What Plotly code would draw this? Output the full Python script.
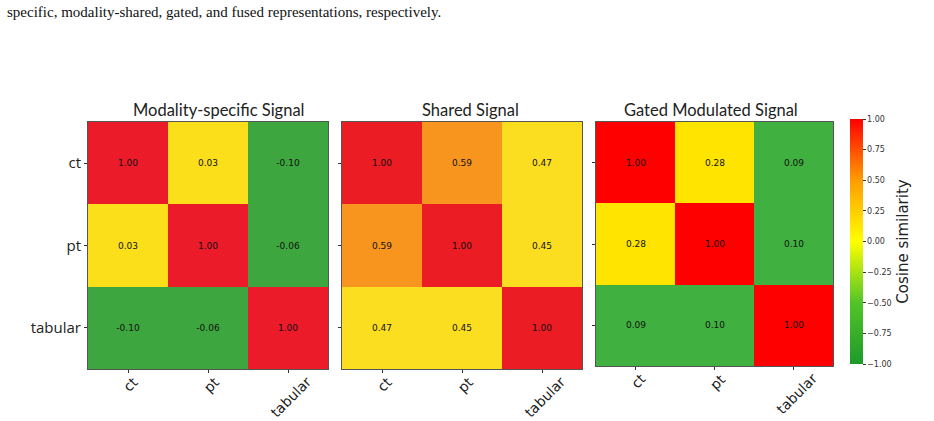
import plotly.graph_objects as go

labels = ["ct", "pt", "tabular"]

specific_vals = [[1.00, 0.03, -0.10],
                 [0.03, 1.00, -0.06],
                 [-0.10, -0.06, 1.00]]
shared_vals = [[1.00, 0.59, 0.47],
               [0.59, 1.00, 0.45],
               [0.47, 0.45, 1.00]]
gated_vals = [[1.00, 0.28, 0.09],
              [0.28, 1.00, 0.10],
              [0.09, 0.10, 1.00]]

titles = ["Modality-specific Signal", "Shared Signal", "Gated Modulated Signal"]

cbar_ticks = [1.0, 0.75, 0.5, 0.25, 0.0, -0.25, -0.5, -0.75, -1.0]

# per-panel colour bands (value thresholds -> colour), as in the source image
def banded(z, bands, zmin, zmax):
    scale = []
    for lo, hi, col in bands:
        a = (max(lo, zmin) - zmin) / (zmax - zmin)
        b = (min(hi, zmax) - zmin) / (zmax - zmin)
        scale.append([max(0.0, min(1.0, a)), col])
        scale.append([max(0.0, min(1.0, b)), col])
    return scale

panels = [
    (specific_vals, [(-1.0, 0.0, "#3ea63e"), (0.0, 0.5, "#fbdf1b"), (0.5, 1.0, "#ec1b2a")]),
    (shared_vals, [(-1.0, 0.52, "#fbde20"), (0.52, 0.8, "#f7951f"), (0.8, 1.0, "#ec1c24")]),
    (gated_vals, [(-1.0, 0.2, "#40b040"), (0.2, 0.5, "#ffe400"), (0.5, 1.0, "#ff0000")]),
]

W, H = 934, 421
xdom = [(88, 328), (342, 582), (596, 833)]
ydom = [(122, 369), (122, 369), (122, 366)]
title_x = [218, 470, 711]

fig = go.Figure()
for i, (z, bands) in enumerate(panels):
    zmin = min(min(r) for r in z)
    zmax = max(max(r) for r in z)
    text = [[f"{v:.2f}" for v in row] for row in z]
    ax = "" if i == 0 else str(i + 1)
    fig.add_trace(go.Heatmap(
        z=z, x=labels, y=labels, text=text, texttemplate="%{text}",
        textfont=dict(size=9, color="#111", family="DejaVu Sans"),
        colorscale=banded(z, bands, zmin, zmax), zmin=zmin, zmax=zmax,
        showscale=False, xgap=0, ygap=0,
        xaxis="x" + ax, yaxis="y" + ax, hoverinfo="skip"))
    x0, x1 = xdom[i]
    y0, y1 = ydom[i]
    fig.update_layout(**{
        "xaxis" + ax: dict(domain=[x0 / W, x1 / W], anchor="y" + ax, automargin=False,
                           ticks="outside", ticklen=3, tickcolor="#333",
                           showticklabels=False,
                           showline=True, linecolor="#555", linewidth=1, mirror=True,
                           showgrid=False, zeroline=False, fixedrange=True),
        "yaxis" + ax: dict(domain=[1 - y1 / H, 1 - y0 / H], anchor="x" + ax, automargin=False,
                           autorange="reversed", ticks="outside", ticklen=3, tickcolor="#333",
                           showticklabels=(i == 0),
                           tickfont=dict(size=15, family="Open Sans", color="#222"),
                           showline=True, linecolor="#555", linewidth=1, mirror=True,
                           showgrid=False, zeroline=False, fixedrange=True),
    })
    # rotated x tick labels, centred under each tick (matplotlib style)
    for lab in labels:
        fig.add_annotation(text=lab, x=lab, y=1 - (y1 + 2) / H,
                           xref="x" + ax, yref="paper", showarrow=False,
                           textangle=-45, xanchor="center", yanchor="top", xshift=3,
                           font=dict(size=14, family="DejaVu Sans", color="#222"))
    fig.add_annotation(text=titles[i], x=title_x[i] / W, y=1 - 110 / H,
                       xref="paper", yref="paper", showarrow=False,
                       font=dict(size=16.5, family="Lato", color="#222"),
                       xanchor="center", yanchor="middle")

# colour bar
fig.add_trace(go.Scatter(
    x=[None], y=[None], mode="markers", showlegend=False, hoverinfo="skip",
    marker=dict(color=[0], cmin=-1, cmax=1, showscale=True,
                colorscale=[[0.0, "#1d9a2a"], [0.25, "#52c428"], [0.5, "#ffff00"],
                            [0.75, "#ff9c00"], [1.0, "#ff0000"]],
                colorbar=dict(x=850 / W, xanchor="left", xref="paper", xpad=0, ypad=0,
                              y=1 - 364 / H, yanchor="bottom", len=(364 - 119) / H,
                              lenmode="fraction", thickness=13, outlinewidth=0,
                              tickvals=cbar_ticks,
                              ticktext=[f"{v:.2f}".replace("-", "\u2212") for v in cbar_ticks],
                              ticks="outside", ticklen=3, tickcolor="#333",
                              tickfont=dict(size=8, family="DejaVu Sans", color="#333"),
                              title=dict(text="Cosine similarity", side="right",
                                         font=dict(size=15, family="DejaVu Sans", color="#222")))),
    xaxis="x3", yaxis="y3"))

fig.add_annotation(text="specific, modality-shared, gated, and fused representations, respectively.",
                   x=5 / W, y=1 - 12 / H, xref="paper", yref="paper", showarrow=False,
                   xanchor="left", yanchor="middle",
                   font=dict(size=15, family="Liberation Serif", color="#111"))

fig.update_layout(width=W, height=H, margin=dict(l=0, r=0, t=0, b=0, autoexpand=False),
                  paper_bgcolor="white", plot_bgcolor="white", showlegend=False)

fig.write_html("out.html")
